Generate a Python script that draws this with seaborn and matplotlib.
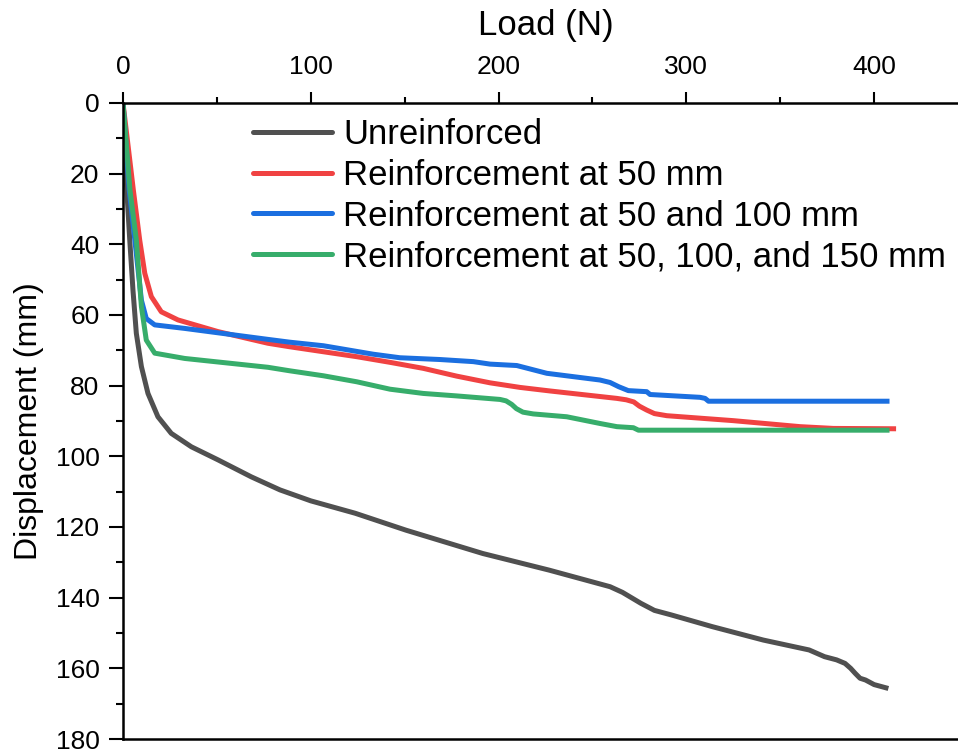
import numpy as np
import pandas as pd
import matplotlib
matplotlib.use("Agg")
import matplotlib.pyplot as plt
import seaborn as sns
from matplotlib.ticker import MultipleLocator
from matplotlib.lines import Line2D

# ---- data ----
series_names = ["Unreinforced", "Reinforcement at 50 mm",
                "Reinforcement at 50 and 100 mm",
                "Reinforcement at 50, 100, and 150 mm"]

unr_load = [0, 1.5, 3.6, 5.3, 7.1, 9.8, 13.3, 18.6, 25.7, 36.4, 50.6, 68.3, 83.6, 100,
            123.6, 150.7, 191.6, 226.9, 259.4, 266, 275.8, 283, 292.1, 313.8, 341,
            365.4, 373.6, 380, 384.5, 387.5, 389.9, 392.5, 395.4, 400, 407.6]
unr_disp = [0, 20, 38.8, 52.9, 65.2, 74.6, 82.2, 88.8, 93.5, 97.3, 101, 105.8, 109.5,
            112.6, 116.1, 120.9, 127.5, 132.2, 136.9, 138.5, 141.6, 143.6, 144.9, 148.2,
            152, 154.8, 156.7, 157.6, 158.6, 160, 161.4, 162.8, 163.3, 164.6, 165.7]

r50_load = [0, 5.5, 8.9, 11.6, 15.1, 20.4, 29.3, 50.6, 77.2, 88.9, 106.7, 124.5, 142.2,
            159.9, 177.7, 195.5, 211.5, 227.4, 263, 268, 272, 275, 278.9, 283, 289.6,
            325, 360.6, 378.3, 411.7]
r50_disp = [0, 24.6, 38.8, 48.2, 54.8, 59.1, 61.4, 64.7, 68, 69, 70.4, 71.8, 73.4,
            75.1, 77.3, 79.2, 80.5, 81.5, 83.6, 84, 84.6, 85.8, 86.9, 87.9, 88.5,
            89.9, 91.6, 92.1, 92.2]

r100_load = [0, 3.3, 6.3, 9.8, 12.4, 16.9, 32.9, 77.2, 88.9, 106.7, 133.3, 147.5, 168.8,
             186.6, 195.5, 209.7, 225.7, 254, 259.4, 264, 269.1, 278.9, 280.7, 307.3,
             310, 311.8, 408.2]
r100_disp = [0, 24.6, 38.8, 55.8, 61, 62.8, 63.8, 66.9, 67.7, 68.7, 71.1, 72.1, 72.6,
             73.2, 73.9, 74.3, 76.5, 78.4, 79.1, 80.3, 81.4, 81.7, 82.5, 83.3,
             83.6, 84.4, 84.4]

r150_load = [0, 3.7, 7.1, 9.8, 12.4, 16.9, 32.9, 77.2, 88.9, 106.7, 124.5, 142.2, 159.9,
             177.7, 200.8, 204, 207, 209.5, 213, 218.5, 236.3, 254, 263, 271.8, 274.5,
             408.2]
r150_disp = [0, 24.6, 38.8, 57.6, 67.1, 70.8, 72.3, 74.8, 75.8, 77.2, 78.9, 81, 82.2,
             82.9, 83.9, 84.3, 85.3, 86.5, 87.5, 88, 88.8, 90.7, 91.6, 91.9, 92.6,
             92.6]

x_ticks = [0, 100, 200, 300, 400]
y_ticks = [0, 20, 40, 60, 80, 100, 120, 140, 160, 180]

colors = ["#505050", "#f04242", "#1b6fe0", "#37ad6b"]

# ---- build long table ----
frames = []
for name, xs, ys in zip(series_names,
                        [unr_load, r50_load, r100_load, r150_load],
                        [unr_disp, r50_disp, r100_disp, r150_disp]):
    frames.append(pd.DataFrame({"Load": xs, "Disp": ys, "Series": name}))
df = pd.concat(frames, ignore_index=True)

sns.set_theme(style="white")
plt.rcParams["font.family"] = ["Liberation Sans", "DejaVu Sans"]
plt.rcParams["text.color"] = "black"
plt.rcParams["axes.labelcolor"] = "black"
plt.rcParams["xtick.color"] = "black"
plt.rcParams["ytick.color"] = "black"

W, H = 958, 753
fig = plt.figure(figsize=(W / 100, H / 100), dpi=100)
left, right, top, bottom = 123, 968, 103, 739
ax = fig.add_axes([left / W, 1 - bottom / H, (right - left) / W, (bottom - top) / H])

sns.lineplot(data=df, x="Load", y="Disp", hue="Series", hue_order=series_names,
             palette=colors, sort=False, estimator=None, units="Series",
             linewidth=3.6, ax=ax, legend=False)
for ln in ax.lines:
    ln.set_solid_joinstyle("round")
    ln.set_solid_capstyle("butt")

ax.set_xlim(0, 450)
ax.set_ylim(180, 0)
ax.xaxis.tick_top()
ax.xaxis.set_label_position("top")
ax.set_xticks(x_ticks)
ax.set_yticks(y_ticks)
ax.xaxis.set_minor_locator(MultipleLocator(50))
ax.yaxis.set_minor_locator(MultipleLocator(10))

for s in ["left", "top", "bottom"]:
    ax.spines[s].set_visible(True)
    ax.spines[s].set_linewidth(1.8)
    ax.spines[s].set_color("black")
ax.spines["right"].set_visible(False)

ax.tick_params(axis="x", which="major", direction="out", length=8, width=1.5,
               labelsize=19, pad=9, top=True, bottom=False, colors="black")
ax.tick_params(axis="x", which="minor", direction="out", length=4, width=1.5,
               top=True, bottom=False, color="black")
ax.tick_params(axis="y", which="major", direction="out", length=10, width=1.5,
               labelsize=19, pad=7, left=True, colors="black")
ax.tick_params(axis="y", which="minor", direction="out", length=5, width=1.5,
               left=True, color="black")

ax.set_xlabel("Load (N)", fontsize=25, labelpad=15, color="black")
ax.set_ylabel("Displacement (mm)", fontsize=23, labelpad=8, color="black")
ax.grid(False)

# legend
handles = [Line2D([0], [0], color=c, lw=3.6) for c in colors]
leg = fig.legend(handles, series_names, loc="upper left",
                 bbox_to_anchor=(253 / W, 1 - 118 / H), bbox_transform=fig.transFigure,
                 frameon=False, fontsize=25, handlelength=2.28, handletextpad=0.32,
                 labelspacing=0.225, borderpad=0, borderaxespad=0)
for t in leg.get_texts():
    t.set_color("black")

fig.savefig("out.png", dpi=100)
